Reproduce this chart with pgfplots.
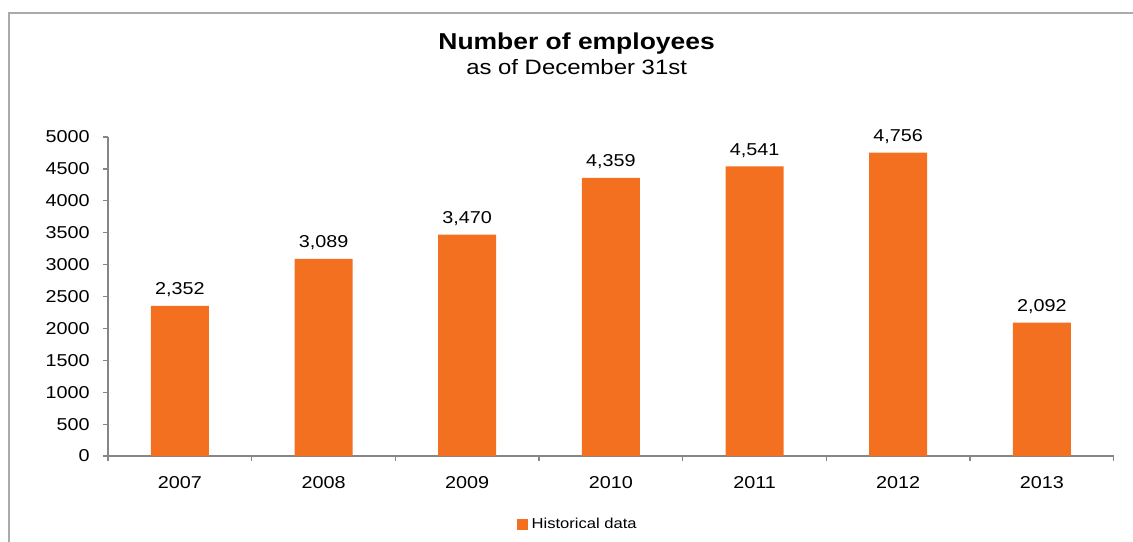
\documentclass[border=0pt]{standalone}
\usepackage{pgfplots}
\pgfplotsset{compat=1.18}
\usepackage{fontspec}
\setmainfont{Liberation Sans}[FakeStretch=1.15]
\definecolor{barorange}{RGB}{243,112,33}
\definecolor{axisgray}{RGB}{134,134,134}
\definecolor{framegray}{RGB}{170,170,170}
\begin{document}
\begin{tikzpicture}
\clip (0,0) rectangle (566.5pt,270.5pt);
\draw[framegray, line width=0.8pt] (4.5pt,-10pt) -- (4.5pt,264pt) -- (600pt,264pt);
\node[anchor=base, inner sep=0pt, font=\fontsize{11.5}{14}\selectfont\bfseries] at (288.3pt,245.5pt) {Number of employees};
\node[anchor=base, inner sep=0pt, font=\fontsize{10.4}{12}\selectfont] at (288.3pt,233pt) {as of December 31st};
\begin{axis}[
  at={(54pt,42.5pt)}, anchor=south west,
  scale only axis, width=502.85pt, height=159.5pt,
  ybar, bar width=29pt,
  xmin=-0.5, xmax=6.5, ymin=0, ymax=5000,
  ytick={0,500,...,5000},
  xtick={0,1,2,3,4,5,6},
  xticklabels={2007,2008,2009,2010,2011,2012,2013},
  minor xtick={-0.5,0.5,1.5,2.5,3.5,4.5,5.5,6.5},
  major x tick style={draw=none},
  axis x line=bottom, axis y line=left,
  axis line style={axisgray, line width=0.6pt, -},
  tick style={axisgray, line width=0.6pt},
  tick align=outside,
  major tick length=2.5pt, minor tick length=2.5pt,
  /pgf/number format/assume math mode=true,
  /pgf/number format/1000 sep={},
  ticklabel style={font=\fontsize{8.6}{10}\selectfont},
  yticklabel style={inner sep=0pt, anchor=east, xshift=-6.5pt},
  xticklabel style={inner sep=0pt, anchor=north, yshift=-7.5pt},
  nodes near coords={\pgfmathprintnumber[1000 sep={,}]{\pgfplotspointmeta}},
  nodes near coords style={font=\fontsize{8.6}{10}\selectfont, anchor=base, inner sep=0pt, yshift=5.5pt},
  legend style={at={(0.468,-0.216)}, anchor=center, draw=none, fill=none, inner sep=0pt, font=\fontsize{7.2}{9}\selectfont},
  legend image code/.code={\fill[#1] (0pt,-2.75pt) rectangle (5.5pt,2.75pt);},
]
\addplot[fill=barorange, draw=none] coordinates {(0,2352) (1,3089) (2,3470) (3,4359) (4,4541) (5,4756) (6,2092)};
\addlegendentry{Historical data}
\end{axis}
\end{tikzpicture}
\end{document}
